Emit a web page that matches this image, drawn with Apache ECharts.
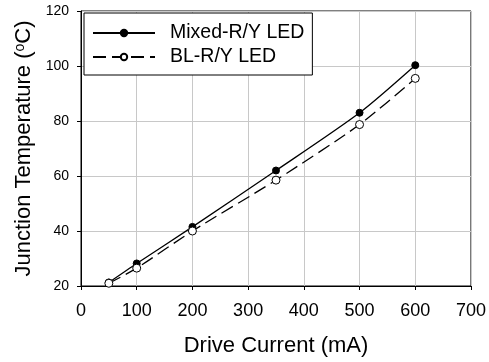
<!DOCTYPE html>
<html><head><meta charset="utf-8">
<script src="https://cdn.jsdelivr.net/npm/echarts@6/dist/echarts.min.js"></script>
<style>html,body{margin:0;padding:0;background:#fff}#c{width:489px;height:362px}</style>
</head><body><div id="c"></div>
<script>
const current = [50, 100, 200, 350, 500, 600];
const mixedRY = [21.3, 28.2, 41.5, 62, 83, 100.3];
const blRY = [21, 26.5, 40, 58.5, 78.7, 95.5];
const xTicks = [0, 100, 200, 300, 400, 500, 600, 700];
const yTicks = [20, 40, 60, 80, 100, 120];
const seriesNames = ['Mixed-R/Y LED', 'BL-R/Y LED'];

const chart = echarts.init(document.getElementById('c'), null, {renderer: 'canvas'});
const F = 'Liberation Sans, Arial, sans-serif';
chart.setOption({
  animation: false,
  backgroundColor: '#fff',
  grid: {left: 81, right: 14, top: 11, bottom: 74, show: true, borderColor: '#000', borderWidth: 1},
  legend: {
    left: 84, top: 13, orient: 'vertical',
    padding: [10, 8, 8, 8],
    itemGap: 4, itemWidth: 62, itemHeight: 8,
    borderColor: '#000', borderWidth: 1, backgroundColor: '#fff',
    textStyle: {fontFamily: F, fontSize: 19.5, color: '#000', padding: [0, 0, 0, 10], lineHeight: 20},
    data: seriesNames
  },
  xAxis: {
    type: 'value', min: xTicks[0], max: xTicks[xTicks.length - 1], interval: 100,
    name: 'Drive Current (mA)', nameLocation: 'middle', nameGap: 49,
    nameTextStyle: {fontFamily: F, fontSize: 22, color: '#000'},
    axisLine: {lineStyle: {color: '#000', width: 1}},
    axisTick: {show: true, inside: false, length: 4, lineStyle: {color: '#000'}},
    axisLabel: {fontFamily: F, fontSize: 18, color: '#000', margin: 16},
    splitLine: {show: true, lineStyle: {color: '#c8c8c8', width: 1}}
  },
  yAxis: {
    type: 'value', min: yTicks[0], max: yTicks[yTicks.length - 1], interval: 20,
    name: '{t|Junction Temperature (}{s|o}{t|C)}', nameLocation: 'middle', nameGap: 46,
    nameTextStyle: {fontFamily: F, fontSize: 22, color: '#000',
      rich: {t: {fontFamily: F, fontSize: 22, color: '#000'}, s: {fontFamily: F, fontSize: 14, color: '#000', verticalAlign: 'top', padding: [0, 0, 8, 0]}}},
    axisLine: {show: true, lineStyle: {color: '#000', width: 1}},
    axisTick: {show: true, inside: false, length: 4, lineStyle: {color: '#000'}},
    axisLabel: {fontFamily: F, fontSize: 14, color: '#000', margin: 12},
    splitLine: {show: true, lineStyle: {color: '#c8c8c8', width: 1}}
  },
  series: [
    {
      name: seriesNames[0], type: 'line', smooth: 0.25,
      data: current.map((x, i) => [x, mixedRY[i]]),
      symbol: 'circle', symbolSize: 7,
      lineStyle: {color: '#000', width: 1.3, type: 'solid'},
      itemStyle: {color: '#000', borderColor: '#000', borderWidth: 1}
    },
    {
      name: seriesNames[1], type: 'line', smooth: 0.25,
      data: current.map((x, i) => [x, blRY[i]]),
      symbol: 'circle', symbolSize: 8,
      lineStyle: {color: '#000', width: 1.3, type: [13, 6]},
      itemStyle: {color: '#fff', borderColor: '#000', borderWidth: 1}
    }
  ]
});
</script></body></html>
